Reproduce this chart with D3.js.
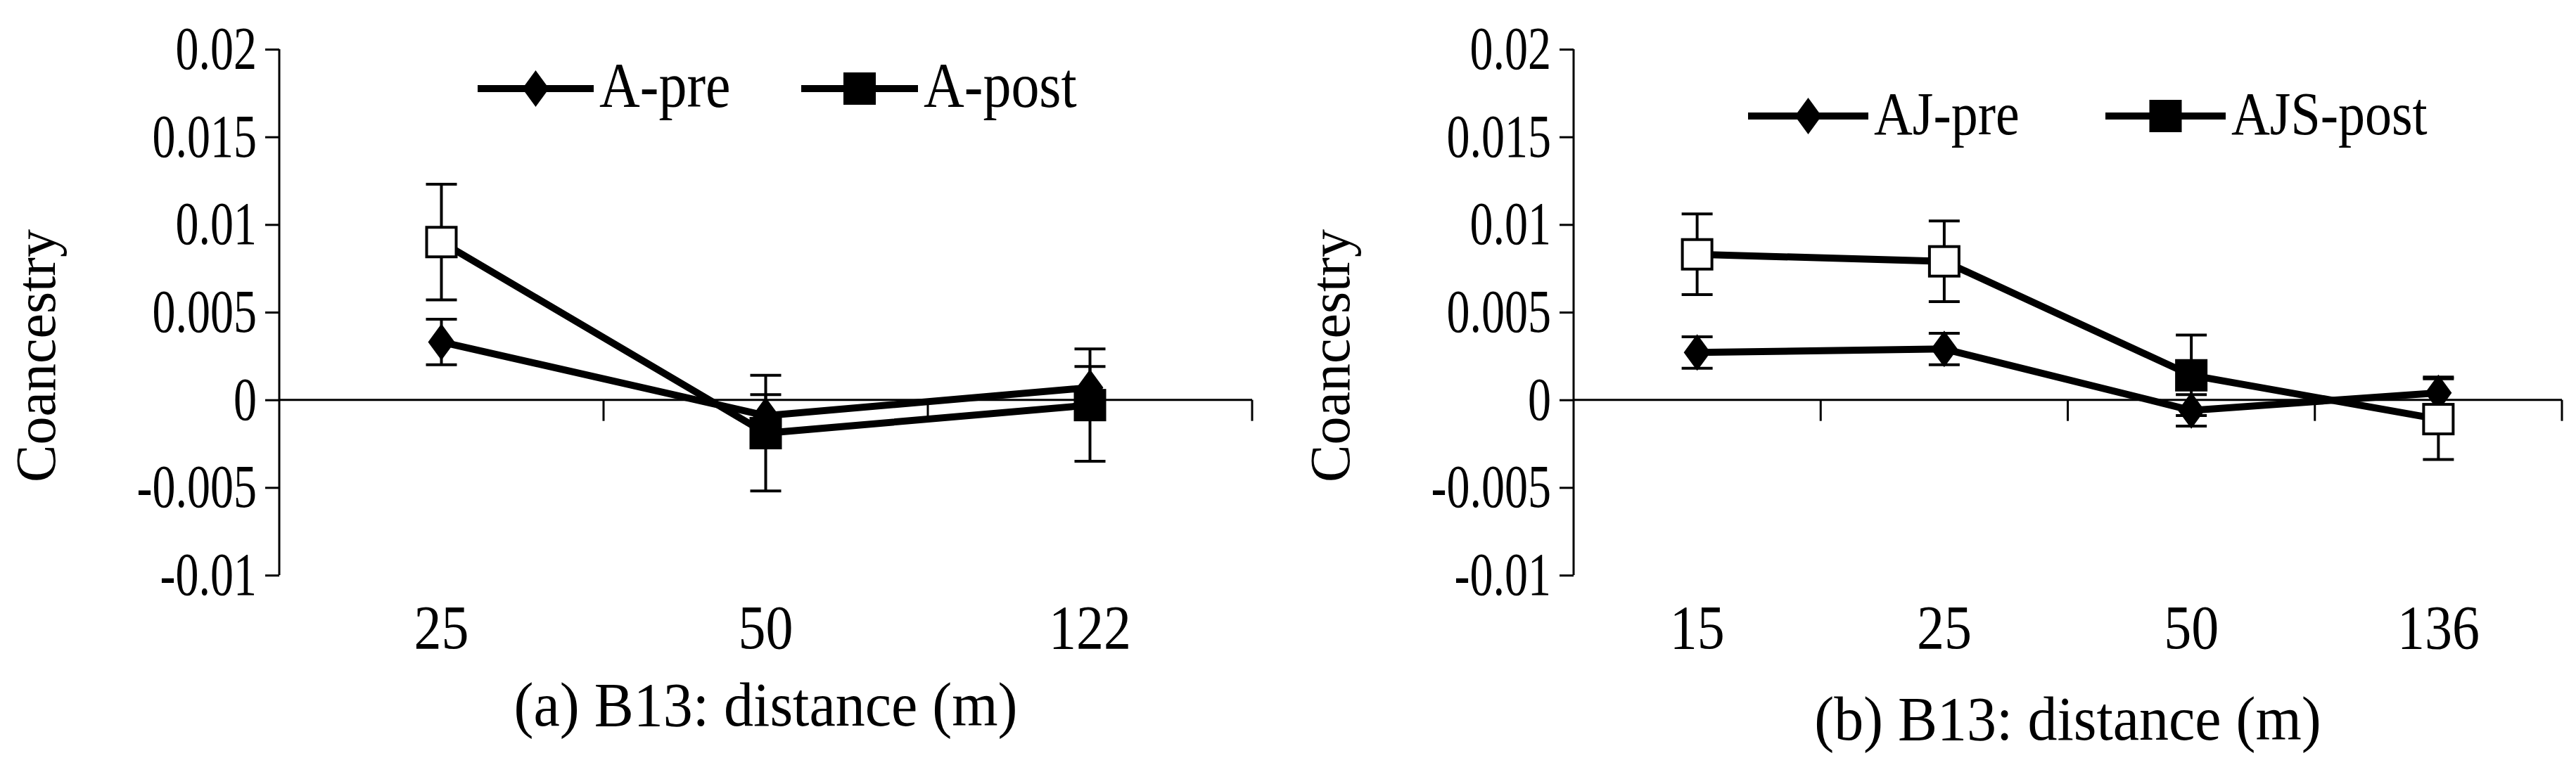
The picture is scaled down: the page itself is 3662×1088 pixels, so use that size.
<!DOCTYPE html>
<html><head><meta charset="utf-8">
<script src="https://cdn.jsdelivr.net/npm/d3@7"></script>
<style>body{margin:0;background:#fff}</style></head>
<body><svg id="c" width="3662" height="1088"></svg>
<script>
const yTicks=[0.02,0.015,0.01,0.005,0,-0.005,-0.01];
const yTickLabels=["0.02","0.015","0.01","0.005","0","-0.005","-0.01"];
const catsA=["25","50","122"];
const aPre=[0.0033,-0.0009,0.0007], aPreErr=[0.0013,0.0012,0.0012];
const aPost=[0.009,-0.0019,-0.0003], aPostErr=[0.0033,0.0033,0.0032];
const aPostFilled=[false,true,true];
const catsB=["15","25","50","136"];
const bPre=[0.0027,0.0029,-0.0006,0.0004], bPreErr=[0.0009,0.0009,0.0009,0.0009];
const bPost=[0.0083,0.0079,0.0014,-0.0011], bPostErr=[0.0023,0.0023,0.0023,0.0023];
const bPostFilled=[false,false,true,false];

const svg=d3.select("#c");
const F="'Liberation Serif','Times New Roman',serif";
function txt(g,x,y,s,size,sy,anchor){
  return g.append("text").attr("transform",`translate(${x},${y}) scale(1,${sy})`)
    .attr("text-anchor",anchor||"start").attr("font-family",F).attr("font-size",size).text(s);
}
function panel(o){
  const g=svg.append("g");
  const y=d3.scaleLinear().domain([-0.01,0.02]).range([818,70]);
  const x=d3.scaleBand().domain(o.cats).range([o.x0,o.x1]);
  const ya=g.append("g").attr("transform",`translate(${o.x0},0)`)
    .call(d3.axisLeft(y).tickValues(yTicks).tickFormat((d,i)=>yTickLabels[i]).tickSize(20).tickPadding(12));
  ya.select(".domain").attr("stroke-width",3).attr("d",`M0,${y(0.02)}V${y(-0.01)}`);
  ya.selectAll(".tick line").attr("stroke-width",3);
  ya.selectAll("text").attr("font-family",F).attr("font-size",66).attr("transform","scale(1,1.3)");
  const xa=g.append("g").attr("transform",`translate(0,${y(0)})`)
    .call(d3.axisBottom(x).tickSize(0).tickFormat(""));
  xa.select(".domain").attr("stroke-width",3).attr("d",`M${o.x0},0H${o.x1}`);
  const bounds=o.cats.map((c,i)=>o.x0+x.step()*(i+1));
  g.selectAll(".xt").data(bounds).enter().append("line").attr("x1",d=>d).attr("x2",d=>d)
    .attr("y1",y(0)).attr("y2",y(0)+30).attr("stroke","#000").attr("stroke-width",3);
  o.cats.forEach(d=>txt(g,x(d)+x.bandwidth()/2,o.catY,d,78,1.15,"middle"));
  txt(g,(o.x0+o.x1)/2,o.titleY,o.title,84,1.05,"middle");
  g.append("text").attr("transform",`translate(${o.ylx},506) rotate(-90)`).attr("text-anchor","middle")
    .attr("font-family",F).attr("font-size",80).text("Coancestry");
  const cx=d=>x(d)+x.bandwidth()/2;
  const line=d3.line().x((v,i)=>cx(o.cats[i])).y(v=>y(v));
  function series(vals,errs,shape,filled){
    vals.forEach((v,i)=>{
      const X=cx(o.cats[i]);
      g.append("line").attr("x1",X).attr("x2",X).attr("y1",y(v+errs[i])).attr("y2",y(v-errs[i])).attr("stroke","#000").attr("stroke-width",4);
      [v+errs[i],v-errs[i]].forEach(e=>g.append("line").attr("x1",X-22).attr("x2",X+22).attr("y1",y(e)).attr("y2",y(e)).attr("stroke","#000").attr("stroke-width",4));
    });
    g.append("path").datum(vals).attr("d",line).attr("fill","none").attr("stroke","#000").attr("stroke-width",10);
    vals.forEach((v,i)=>marker(cx(o.cats[i]),y(v),shape,filled[i]));
  }
  function marker(X,Y,shape,f){
    if(shape==="d") g.append("path").attr("d",`M${X},${Y-26}L${X+19},${Y}L${X},${Y+26}L${X-19},${Y}Z`).attr("fill","#000");
    else g.append("rect").attr("x",X-21).attr("y",Y-21).attr("width",42).attr("height",42)
      .attr("fill",f?"#000":"#fff").attr("stroke","#000").attr("stroke-width",4);
  }
  series(o.pre,o.preErr,"d",o.pre.map(()=>true));
  series(o.post,o.postErr,"s",o.postFilled);
  o.leg.forEach(l=>{
    g.append("line").attr("x1",l.x1).attr("x2",l.x2).attr("y1",l.y).attr("y2",l.y).attr("stroke","#000").attr("stroke-width",10);
    marker((l.x1+l.x2)/2,l.y,l.shape,true);
    txt(g,l.x2+8,l.y+26,l.text,o.legSize,1.15);
  });
}
panel({cats:catsA,x0:397,x1:1780,catY:922,titleY:1032,title:"(a) B13: distance (m)",ylx:78,legSize:80,
  pre:aPre,preErr:aPreErr,post:aPost,postErr:aPostErr,postFilled:aPostFilled,
  leg:[{x1:679,x2:844,y:126,shape:"d",text:"A-pre"},{x1:1139,x2:1305,y:126,shape:"s",text:"A-post"}]});
panel({cats:catsB,x0:2237,x1:3642,catY:922,titleY:1052,title:"(b) B13: distance (m)",ylx:1918,legSize:76,
  pre:bPre,preErr:bPreErr,post:bPost,postErr:bPostErr,postFilled:bPostFilled,
  leg:[{x1:2485,x2:2656,y:165,shape:"d",text:"AJ-pre"},{x1:2993,x2:3164,y:165,shape:"s",text:"AJS-post"}]});
</script></body></html>
